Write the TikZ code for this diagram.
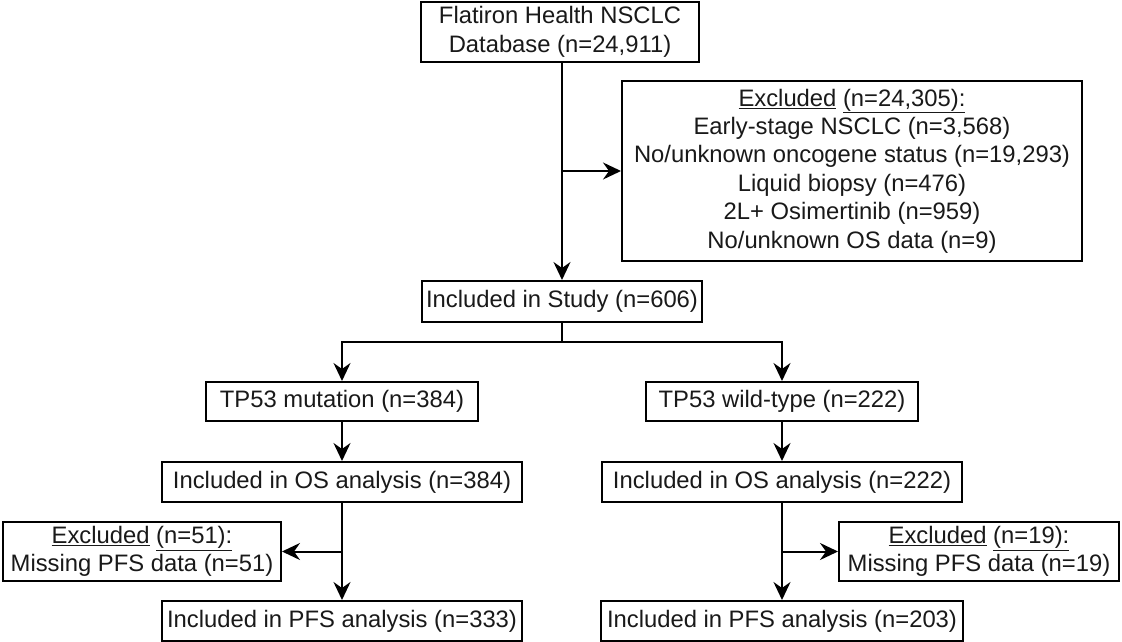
\documentclass[tikz,border=0pt]{standalone}
\usepackage{fontspec}
\setmainfont{Liberation Sans}
\usetikzlibrary{arrows.meta,calc}
\begin{document}
\begin{tikzpicture}[x=1pt,y=1pt,
  box/.style={draw, line width=2pt, inner sep=0pt, anchor=north west, align=center,
    font=\fontsize{23.8}{28.4}\selectfont, text=black!90},
  arr/.style={line width=2pt, -{Stealth[length=18pt,width=17pt,inset=6pt]}},
  ln/.style={line width=2pt}]
\useasboundingbox (0,0) rectangle (1122,-642);
\fill[white] (0,0) rectangle (1122,-642);
% boxes: (left, -top) , width, height
\node[box, minimum width=278pt, minimum height=60pt] (top) at (420,-1) {Flatiron Health NSCLC\\Database (n=24,911)};
\node[box, minimum width=460pt, minimum height=180pt] (excl) at (621,-80) {\underline{Excluded} \underline{(n=24,305):}\\Early-stage NSCLC (n=3,568)\\No/unknown oncogene status (n=19,293)\\Liquid biopsy (n=476)\\2L+ Osimertinib (n=959)\\No/unknown OS data (n=9)};
\node[box, minimum width=280pt, minimum height=41pt] (study) at (421,-280) {Included in Study (n=606)};
\node[box, minimum width=272pt, minimum height=39pt] (mut) at (205,-381) {TP53 mutation (n=384)};
\node[box, minimum width=272pt, minimum height=39pt] (wt) at (645,-381) {TP53 wild-type (n=222)};
\node[box, minimum width=360pt, minimum height=40pt] (osL) at (161,-461) {Included in OS analysis (n=384)};
\node[box, minimum width=360pt, minimum height=40pt] (osR) at (601,-461) {Included in OS analysis (n=222)};
\node[box, minimum width=278pt, minimum height=59pt] (exL) at (2,-521) {\underline{Excluded} \underline{(n=51):}\\Missing PFS data (n=51)};
\node[box, minimum width=280pt, minimum height=59pt] (exR) at (838,-521) {\underline{Excluded} \underline{(n=19):}\\Missing PFS data (n=19)};
\node[box, minimum width=360pt, minimum height=40pt] (pfsL) at (161,-600) {Included in PFS analysis (n=333)};
\node[box, minimum width=362pt, minimum height=40pt] (pfsR) at (600,-600) {Included in PFS analysis (n=203)};
% connectors
\coordinate (s0) at (study.north);
\draw[arr] (top.south -| s0) -- (s0);
\coordinate (j1) at (s0 |- excl.west);
\draw[arr] (j1) -- (excl.west);
\coordinate (br) at ($(study.south)+(0,-19)$);
\draw[ln] (study.south) -- (br);
\draw[arr] (br) -| (mut.north);
\draw[arr] (br) -| (wt.north);
\draw[arr] (mut.south) -- (mut.south |- osL.north);
\draw[arr] (wt.south) -- (wt.south |- osR.north);
\coordinate (xL) at (osL.south);
\coordinate (xR) at (osR.south);
\draw[arr] (xL) -- (xL |- pfsL.north);
\draw[arr] (xR) -- (xR |- pfsR.north);
\coordinate (jL) at (xL |- exL.east);
\coordinate (jR) at (xR |- exR.west);
\draw[arr] (jL) -- (exL.east);
\draw[arr] (jR) -- (exR.west);
\end{tikzpicture}
\end{document}
